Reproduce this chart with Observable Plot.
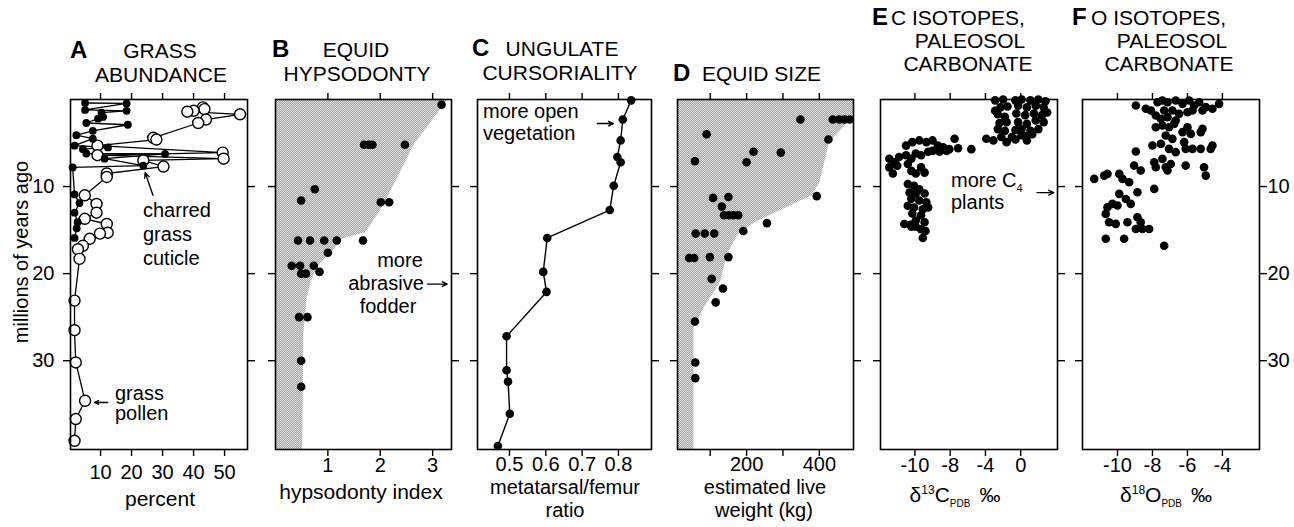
<!DOCTYPE html>
<html><head><meta charset="utf-8">
<script src="https://cdn.jsdelivr.net/npm/d3@7"></script>
<script src="https://cdn.jsdelivr.net/npm/@observablehq/plot@0.6"></script>
<style>
body{margin:0;background:#fff;}
#fig{position:relative;width:1294px;height:527px;overflow:hidden;background:#fff;}
#fig svg{position:absolute;top:0;}
</style></head><body><div id="fig"></div>
<script>
// ---------- DATA ----------
const ageDomain = [0, 40.2];
const ageTicks = [10, 20, 30];

// A: grass abundance [age Ma, percent]
const cuticle = [[0.4,5],[0.45,18.4],[1.2,5],[1.3,18.4],[1.5,10.3],[2.0,10.8],[2.2,9.2],[2.7,5.4],[2.9,18.8],[3.6,7.5],[4.1,2.2],[4.5,7.5],[5.3,1.6],[5.5,12.4],[5.7,4.3],[6.2,5.4],[6.25,30.8],[6.8,11.3],[7.6,23.8],[7.8,1.0],[10.9,1.6],[11.9,3.2],[13.0,1.6],[14.1,2.6],[14.8,2.3],[15.9,1.6]];
const pollen = [[0.9,43],[1.1,43.5],[1.3,40],[1.4,38],[1.7,55],[2.3,44],[2.7,41.5],[4.4,27],[4.6,28],[5.3,9],[6.1,49.4],[6.4,9],[6.8,49.7],[7.0,23.8],[7.7,30.3],[8.5,12],[8.9,12],[11.0,4.9],[12.0,8.7],[13.0,8.7],[13.7,4.9],[14.3,12],[15.3,12.3],[15.4,9.8],[16.0,6.5],[16.8,4.3],[17.2,2.7],[18.3,3.2],[23.1,1.6],[26.5,1.6],[30.2,2],[34.6,5],[36.7,2],[39.2,1.6]];
const aTicks = [10,20,30,40,50];

// B: equid hypsodonty [age, index]
const hypso = [[0.6,3.17],[5.2,1.69],[5.2,1.78],[5.2,1.85],[5.2,2.47],[10.3,0.75],[11.6,0.49],[11.8,2.01],[11.8,2.17],[16.2,0.43],[16.2,0.66],[16.2,0.93],[16.2,1.17],[16.2,1.67],[17.6,1.0],[19.1,0.31],[19.1,0.47],[19.1,0.73],[19.8,0.84],[20,0.49],[20,0.58],[25,0.45],[25,0.61],[30,0.49],[33,0.49]];
const hypsoEnvelope = [[0,3.3],[5.2,2.65],[10,2.25],[13,1.98],[15.3,1.72],[16,1.3],[17.6,1.06],[19.3,0.8],[21,0.68],[23,0.6],[27,0.54],[40.2,0.52]];
const bTicks = [1,2,3];

// C: ungulate cursoriality [age, ratio]
const cursor = [[0.1,0.835],[2.3,0.812],[4.7,0.806],[6.6,0.797],[7.2,0.806],[9.9,0.787],[12.7,0.776],[15.9,0.604],[19.8,0.593],[22.1,0.602],[27.2,0.492],[31.1,0.492],[32.4,0.496],[36.1,0.501],[39.8,0.468]];
const cTicks = [0.5,0.6,0.7,0.8];

// D: equid size [age, kg]
const equidSize = [[2.3,348],[2.3,437],[2.3,455],[2.3,469],[2.3,483],[4.6,425],[4.0,90],[6.0,219],[6.1,294],[7.1,58],[7.2,200],[11.1,393],[11.3,108],[11.2,150],[12.3,132],[13.3,138],[13.3,152],[13.3,164],[13.3,177],[14.2,256],[15.4,60],[15.4,85],[15.4,111],[15.1,191],[18.2,42],[18.2,56],[18.1,99],[18.1,150],[20.6,104],[21.7,135],[23.3,115],[25.5,58],[30.2,59],[32.0,59]];
const sizeEnvelope = [[0,494],[2.0,494],[4.9,428],[9.5,402],[11,382],[12.5,307],[14.1,225],[15.6,175],[17.9,147],[21,128],[24,83],[26.3,55],[40.2,55]];
const dTicks = [100,200,300,400];
const dTickLabels = ["","200","","400"];

// E: carbon isotopes [d13C, age]
const carbon = [[-2.9,0.1],[-2.0,0.0],[-2.3,0.9],[-1.5,0.8],[-2.9,1.3],[-2.6,1.7],[-1.8,2.0],[-2.4,2.7],[-1.6,2.6],[-2.6,3.4],[-1.8,3.6],
[-0.6,0.1],[0.1,0.0],[1.1,0.1],[2.0,0.0],[2.8,0.2],[-0.3,0.7],[0.7,0.9],[1.7,0.7],[2.6,0.9],
[-0.5,1.6],[0.5,1.8],[1.5,1.6],[2.4,1.8],[3.0,1.5],[-0.3,2.6],[0.7,2.8],[1.7,2.4],[2.6,2.6],
[-0.6,3.5],[0.1,3.4],[1.1,3.6],[2.0,3.4],[0.5,4.2],[1.3,4.0],
[-3.9,4.5],[-3.1,4.7],[-2.2,4.3],[-1.6,4.9],[-1.0,4.3],[-0.6,4.6],[0.1,4.1],[0.7,4.7],
[-5.6,5.7],
[-13.0,5.3],[-12.3,4.9],[-11.5,4.7],[-10.7,4.9],[-10.0,4.7],[-9.4,5.3],[-8.8,5.5],[-8.1,5.7],[-7.5,4.5],[-7.1,5.6],
[-14.9,6.8],[-14.3,7.2],[-13.8,6.6],[-13.0,6.4],[-12.4,6.8],[-11.9,6.2],[-11.3,6.4],[-10.5,6.0],[-10.0,5.9],[-9.2,6.0],[-8.4,5.9],
[-14.9,7.8],[-14.5,8.5],[-14.0,7.6],[-12.8,7.4],[-12.4,8.2],[-11.9,8.5],[-11.3,7.8],[-10.9,8.4],
[-12.8,9.7],[-12.1,9.9],[-11.5,10.3],[-12.6,10.7],[-11.9,10.8],[-10.9,10.8],[-12.4,11.4],[-11.5,11.6],[-10.7,11.8],[-12.8,12.2],[-12.1,12.4],[-11.1,12.6],[-10.5,12.4],[-12.3,13.1],[-11.3,13.3],[-11.9,13.9],[-10.9,14.1],[-12.4,14.6],
[-13.2,14.3],[-12.5,14.4],[-11.9,14.6],[-11.3,14.9],[-10.8,15.1],[-11.1,15.9]];
const eTicks = [-12,-8,-4,0];
const eTickLabels = ["-10","-8","-4","0"];

// F: oxygen isotopes [d18O, age]
const oxygen = [[-8.95,0.69],[-8.38,1.07],[-8.09,1.26],[-7.71,0.31],[-7.43,0.11],[-7.14,0.31],[-6.67,0.11],[-6.28,0.5],[-5.9,0.11],[-5.62,0.69],[-5.33,0.31],[-4.95,0.88],[-4.57,1.07],[-4.19,0.5],[-7.33,1.26],[-6.86,1.26],[-6.48,1.65],[-6.0,1.46],[-5.71,1.26],[-5.14,1.26],
[-7.81,1.84],[-7.52,2.22],[-7.14,2.03],[-6.67,2.41],[-7.81,3.18],[-7.43,2.99],[-7.05,3.18],[-6.76,2.8],[-7.24,4.14],[-6.86,4.52],[-6.28,3.75],[-6.0,3.18],[-5.81,3.95],[-5.24,3.75],[-5.14,3.37],
[-8.0,5.29],[-7.52,5.1],[-7.05,5.67],[-6.67,6.05],[-6.19,4.9],[-6.1,5.67],[-5.71,5.67],[-5.24,5.67],[-4.67,5.67],[-4.57,5.29],[-8.95,5.98],
[-9.05,7.59],[-8.67,8.16],[-7.9,7.2],[-7.81,7.78],[-7.43,6.82],[-7.24,7.78],[-6.95,7.4],[-7.14,8.16],[-6.1,7.59],[-5.05,7.78],[-4.95,8.74],
[-11.33,9.12],[-10.76,8.74],[-10.57,8.54],[-9.9,8.54],[-9.71,9.12],[-9.33,9.5],[-8.86,10.65],[-7.9,10.27],
[-9.9,10.84],[-9.52,11.42],[-10.29,11.99],[-10.57,12.38],[-10.0,12.18],[-9.24,11.99],[-10.67,13.14],[-10.48,14.1],[-10.1,14.29],[-9.43,14.1],[-8.86,13.52],[-8.67,14.1],[-8.95,14.87],[-8.57,14.87],[-8.19,14.87],
[-10.67,16.0],[-9.62,16.0],[-7.33,16.8]];
const fTicks = [-10,-8,-6,-4];

// annotation arrows in data coordinates [x1, age1, x2, age2]
const arrowsA = [[26.9,11.0,24.4,8.4],[12.3,34.8,8.1,34.8]];
const arrowsB = [[2.9,21.2,3.28,21.2]];
const arrowsC = [[0.742,2.76,0.786,2.76]];
const arrowsE = [[1.85,10.7,3.75,10.7]];

// ---------- DRAW ----------
const FONT = '"Liberation Sans", Arial, Helvetica, sans-serif';
const fig = document.getElementById("fig");

function stipple(svg, id) {
  const p = d3.select(svg).insert("defs", ":first-child").append("pattern")
    .attr("id", id).attr("width", 2).attr("height", 2).attr("patternUnits", "userSpaceOnUse");
  p.append("rect").attr("width", 2).attr("height", 2).attr("fill", "#dedede");
  [[0,0],[1,1]].forEach(([x,y]) => p.append("rect").attr("x",x).attr("y",y).attr("width",1).attr("height",1).attr("fill","#a4a4a4"));
}

function arrowMark(arr) {
  return Plot.arrow(arr, {x1: d=>d[0], y1: d=>d[1], x2: d=>d[2], y2: d=>d[3], stroke: "black", strokeWidth: 1.4, headLength: 6, headAngle: 50});
}

function panel({L, R, mL = 30, mR = 30, xDomain, xTicks, xFormat, marks, leftLabels = false, rightLabels = false, xPad = 1, pattern}) {
  const svg = Plot.plot({
    width: R - L + mL + mR, height: 527,
    marginTop: 99, marginBottom: 78, marginLeft: mL, marginRight: mR,
    x: {domain: xDomain, label: null},
    y: {domain: ageDomain, reverse: true, label: null},
    style: {fontFamily: FONT, fontSize: "20px", color: "black", background: "transparent", overflow: "visible"},
    marks: [
      ...marks,
      Plot.frame({stroke: "black", strokeWidth: 1.6}),
      Plot.axisX({anchor: "top", ticks: xTicks, tickSize: 7, strokeWidth: 1.4, tickFormat: () => "", label: null}),
      Plot.axisX({anchor: "bottom", ticks: xTicks, tickSize: 7, strokeWidth: 1.4, tickPadding: xPad, tickFormat: xFormat, label: null, fontSize: 20}),
      Plot.axisY({anchor: "left", ticks: ageTicks, tickSize: 7, strokeWidth: 1.4, tickPadding: 9, tickFormat: leftLabels ? d => String(d) : () => "", label: null, fontSize: 20}),
      Plot.axisY({anchor: "right", ticks: ageTicks, tickSize: 7, strokeWidth: 1.4, tickPadding: 1, tickFormat: rightLabels ? d => String(d) : () => "", label: null, fontSize: 20})
    ]
  });
  if (pattern) stipple(svg, pattern);
  svg.style.left = (L - mL) + "px";
  fig.appendChild(svg);
}

const R_DOT = 4.3;

// A
panel({L: 70, R: 247, mL: 70, mR: 25, xDomain: [0.3, 57.4], xTicks: aTicks, xFormat: d => String(d), leftLabels: true, xPad: 8,
  marks: [
    Plot.line(cuticle, {x: d => d[1], y: d => d[0], stroke: "black", strokeWidth: 1.3}),
    Plot.line(pollen, {x: d => d[1], y: d => d[0], stroke: "black", strokeWidth: 1.3}),
    Plot.dot(pollen, {x: d => d[1], y: d => d[0], r: 5.5, fill: "white", stroke: "black", strokeWidth: 1.4}),
    Plot.dot(cuticle, {x: d => d[1], y: d => d[0], r: 3.9, fill: "black"}),
    arrowMark(arrowsA)
  ]});

// B
panel({L: 275, R: 451, xDomain: [0, 3.36], xTicks: bTicks, xFormat: d => String(d), pattern: "stipB",
  marks: [
    Plot.areaX(hypsoEnvelope, {y: d => d[0], x1: 0, x2: d => d[1], fill: "url(#stipB)", clip: true}),
    Plot.dot(hypso, {x: d => d[1], y: d => d[0], r: R_DOT, fill: "black"}),
    arrowMark(arrowsB)
  ]});

// C
panel({L: 477, R: 651, xDomain: [0.412, 0.891], xTicks: cTicks, xFormat: d => d.toFixed(1), xPad: 0,
  marks: [
    Plot.line(cursor, {x: d => d[1], y: d => d[0], stroke: "black", strokeWidth: 1.4}),
    Plot.dot(cursor, {x: d => d[1], y: d => d[0], r: R_DOT, fill: "black"}),
    arrowMark(arrowsC)
  ]});

// D
const dLabelMap = new Map(dTicks.map((t, i) => [t, dTickLabels[i]]));
panel({L: 677, R: 853, xDomain: [10, 494], xTicks: dTicks, xFormat: d => dLabelMap.get(d) ?? "", pattern: "stipD", xPad: 0,
  marks: [
    Plot.areaX(sizeEnvelope, {y: d => d[0], x1: 0, x2: d => d[1], fill: "url(#stipD)", clip: true}),
    Plot.dot(equidSize, {x: d => d[1], y: d => d[0], r: R_DOT, fill: "black"})
  ]});

// E
const eLabelMap = new Map(eTicks.map((t, i) => [t, eTickLabels[i]]));
panel({L: 880, R: 1057, xDomain: [-15.9, 4.17], xTicks: eTicks, xFormat: d => eLabelMap.get(d) ?? "",
  marks: [
    Plot.dot(carbon, {x: d => d[0], y: d => d[1], r: R_DOT, fill: "black"}),
    arrowMark(arrowsE)
  ]});

// F
panel({L: 1082, R: 1259, mL: 25, mR: 35, xDomain: [-12.0, -1.88], xTicks: fTicks, xFormat: d => String(d), rightLabels: true,
  marks: [
    Plot.dot(oxygen, {x: d => d[0], y: d => d[1], r: R_DOT, fill: "black"})
  ]});

// ---------- TEXT OVERLAY ----------
const ov = d3.select(fig).append("svg").attr("width", 1294).attr("height", 527)
  .style("left", "0px").style("pointer-events", "none")
  .attr("font-family", FONT).attr("fill", "black");

function t(x, y, s, {size = 21, anchor = "start", bold = false} = {}) {
  return ov.append("text").attr("x", x).attr("y", y).attr("font-size", size)
    .attr("text-anchor", anchor).attr("font-weight", bold ? "bold" : "normal").text(s);
}
const titles = [
  [70,58,"A",1,"start"],[160,58,"GRASS",0,"middle"],[161,82,"ABUNDANCE",0,"middle"],
  [272,57,"B",1,"start"],[356,57,"EQUID",0,"middle"],[357,81,"HYPSODONTY",0,"middle"],
  [472,56,"C",1,"start"],[562,56,"UNGULATE",0,"middle"],[560,80,"CURSORIALITY",0,"middle"],
  [673,81,"D",1,"start"],[702,81,"EQUID SIZE",0,"start"],
  [872,25,"E",1,"start"],[891,25,"C ISOTOPES,",0,"start"],[970,48,"PALEOSOL",0,"middle"],[968,71,"CARBONATE",0,"middle"],
  [1072,25,"F",1,"start"],[1091,25,"O ISOTOPES,",0,"start"],[1172,48,"PALEOSOL",0,"middle"],[1169,71,"CARBONATE",0,"middle"]
];
titles.forEach(([x,y,s,b,a]) => t(x, y, s, {size: b ? 24 : 21, bold: !!b, anchor: a}));

// axis titles
t(160, 506, "percent", {anchor: "middle"});
t(361, 499, "hypsodonty index", {anchor: "middle"});
t(565, 494, "metatarsal/femur", {size: 20, anchor: "middle"});
t(565, 517, "ratio", {size: 20, anchor: "middle"});
t(765, 494, "estimated live", {size: 20, anchor: "middle"});
t(764, 517, "weight (kg)", {size: 20, anchor: "middle"});
ov.append("text").attr("transform", "translate(28,252) rotate(-90)").attr("text-anchor", "middle")
  .attr("font-size", 20).text("millions of years ago");

function isoLabel(x, y, sup, el) {
  const tx = ov.append("text").attr("x", x).attr("y", y).attr("font-size", 21).attr("text-anchor", "middle");
  tx.append("tspan").text("δ");
  tx.append("tspan").attr("font-size", 12).attr("dy", -8).text(sup);
  tx.append("tspan").attr("dy", 8).text(el);
  tx.append("tspan").attr("font-size", 10).attr("dy", 5).text("PDB");
  tx.append("tspan").attr("dy", -5).attr("dx", 9).text("‰");
}
isoLabel(955, 502, "13", "C");
isoLabel(1166, 502, "18", "O");

// annotations
const notes = [
  [143,217,"charred","start"],[143,241,"grass","start"],[143,265,"cuticle","start"],
  [115,400,"grass","start"],[115,420,"pollen","start"],
  [400,267,"more","middle"],[386,290,"abrasive","middle"],[388,313,"fodder","middle"],
  [483,118,"more open","start"],[483,140,"vegetation","start"],
  [951,209,"plants","start"]
];
notes.forEach(([x,y,s,a]) => t(x, y, s, {size: 20, anchor: a}));
const c4 = ov.append("text").attr("x", 951).attr("y", 187).attr("font-size", 20);
c4.append("tspan").text("more C");
c4.append("tspan").attr("font-size", 11).attr("dy", 5).text("4");
</script></body></html>
